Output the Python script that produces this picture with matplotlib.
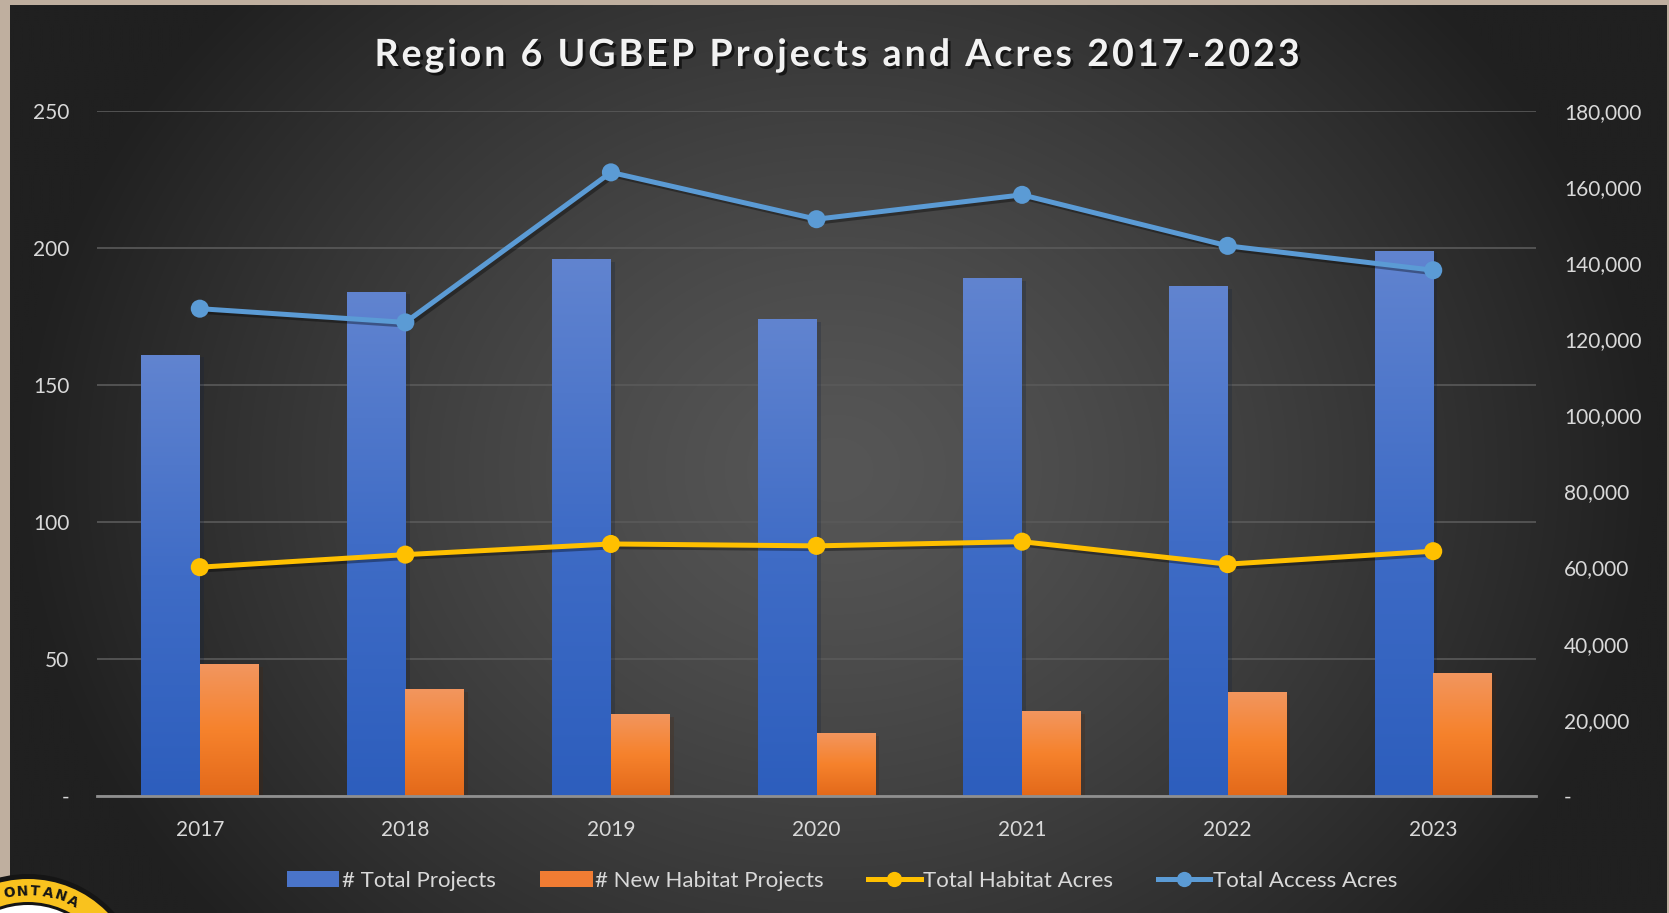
import numpy as np
import matplotlib
matplotlib.use("Agg")
import matplotlib.pyplot as plt
from matplotlib.colors import LinearSegmentedColormap
from matplotlib.patches import Patch, Circle
from matplotlib.lines import Line2D
import matplotlib.patheffects as pe

plt.rcParams['font.family'] = ['Lato', 'DejaVu Sans']

# Datos
years = ['2017', '2018', '2019', '2020', '2021', '2022', '2023']
total_projects = [161, 184, 196, 174, 189, 186, 199]
new_habitat_projects = [48, 39, 30, 23, 31, 38, 45]
habitat_acres = [60100, 63400, 66200, 65700, 66800, 60900, 64300]
access_acres = [128000, 124400, 163800, 151500, 157900, 144500, 138100]

left_ticks = [0, 50, 100, 150, 200, 250]
right_ticks = list(range(0, 180001, 20000))

title = 'Region 6 UGBEP Projects and Acres 2017-2023'

W, H = 1669, 913
fig = plt.figure(figsize=(W / 100, H / 100), dpi=100)
fig.patch.set_facecolor('#BFAF9F')

# Fondo con degradado radial
bg = fig.add_axes([0, 0, 1, 1], zorder=-10)
bg.set_xlim(0, W)
bg.set_ylim(H, 0)
bg.axis('off')
gx, gy = np.meshgrid(np.linspace(10, 1666, 400), np.linspace(5, H, 220))
d = np.sqrt(((gx - 835) / 820) ** 2 + ((gy - 470) / 700) ** 2)
val = 86 - 54 * np.clip(d, 0, 1) ** 1.3
rgb = np.dstack([val, val, val]) / 255.0
bg.imshow(rgb, extent=[10, 1666, H, 5], aspect='auto', interpolation='bilinear')
bg.set_xlim(0, W)
bg.set_ylim(H, 0)

# Logo (parcial) abajo a la izquierda
cx, cy = 28, 990
bg.add_patch(Circle((cx, cy), 116, fc='#151515', ec='none'))
bg.add_patch(Circle((cx, cy), 111, fc='#F9C21E', ec='none'))
bg.add_patch(Circle((cx, cy), 88, fc='#151515', ec='none'))
bg.add_patch(Circle((cx, cy), 85, fc='white', ec='none'))
for i, ch in enumerate("ONTANA"):
    th = np.deg2rad(-11 + 7.5 * i)
    bg.text(cx + 99 * np.sin(th), cy - 99 * np.cos(th), ch, rotation=-np.rad2deg(th),
            ha='center', va='center', fontsize=10, fontweight='bold', color='#151515',
            family='DejaVu Sans')

# Ejes principales
ax = fig.add_axes([97 / W, 1 - 796 / H, (1536 - 97) / W, (796 - 110.7) / H])
ax.patch.set_alpha(0)
ax2 = ax.twinx()
ax2.patch.set_alpha(0)

x = np.arange(len(years))
bw = 0.285
b1 = ax.bar(x - bw / 2, total_projects, bw, color='#4472C4', zorder=1,
            path_effects=[pe.SimplePatchShadow(offset=(3, -2), alpha=0.25), pe.Normal()])
b2 = ax.bar(x + bw / 2, new_habitat_projects, bw, color='#ED7D31', zorder=1,
            path_effects=[pe.SimplePatchShadow(offset=(3, -2), alpha=0.25), pe.Normal()])

def grad_fill(bars, stops):
    cmap = LinearSegmentedColormap.from_list('g', stops)
    grad = np.linspace(0, 1, 256).reshape(-1, 1)
    for b in bars:
        bx, by = b.get_xy()
        im = ax.imshow(grad, cmap=cmap, extent=[bx, bx + b.get_width(), by, by + b.get_height()],
                       origin='lower', aspect='auto', zorder=1.2)
        im.set_clip_path(b)

grad_fill(b1, ['#2D5EBD', '#3F6CC6', '#6184D0'])
grad_fill(b2, ['#E3691A', '#F6822C', '#F2965F'])

ax.set_xlim(-0.5, 6.5)
ax.set_ylim(0, 250)
ax.set_yticks(left_ticks)
ax.set_yticklabels(['-'] + [str(t) for t in left_ticks[1:]])
ax.set_xticks(x)
ax.set_xticklabels(years)
ax.grid(axis='y', color='#5A5A5A', lw=1.2, zorder=0)
ax.set_axisbelow(True)
for s in ['top', 'left', 'right']:
    ax.spines[s].set_visible(False)
ax.spines['bottom'].set_color('#8F8F8F')
ax.spines['bottom'].set_linewidth(2)
ax.spines['bottom'].set_zorder(3)
ax.tick_params(axis='y', length=0, pad=20, labelsize=15, labelcolor='#D9D9D9')
ax.tick_params(axis='x', length=0, pad=17, labelsize=15, labelcolor='#D9D9D9')

shadow = [pe.SimpleLineShadow(offset=(2, -2), alpha=0.35), pe.Normal()]
ax2.plot(x, habitat_acres, color='#FFC000', lw=3.6, marker='o', ms=13, mew=0,
         path_effects=shadow, zorder=3)
ax2.plot(x, access_acres, color='#5B9BD5', lw=3.6, marker='o', ms=13, mew=0,
         path_effects=shadow, zorder=3)
ax2.set_ylim(0, 180000)
ax2.set_yticks(right_ticks)
ax2.set_yticklabels(['-'] + ['{:,}'.format(t) for t in right_ticks[1:]])
for s in ax2.spines.values():
    s.set_visible(False)
ax2.tick_params(axis='y', length=0, pad=20, labelsize=15, labelcolor='#D9D9D9')

# Titulo con espaciado entre letras
renderer = fig.canvas.get_renderer()
tkw = dict(fontsize=27, fontweight='bold', color='#F2F2F2')

def adv(s):
    t = fig.text(0, 0, s, **tkw)
    w = t.get_window_extent(renderer).width
    t.remove()
    return w

bar_w = adv('||')
widths = [adv('|' + c + '|') - bar_w for c in title]
target = 925.0
extra = (target - sum(widths)) / (len(title) - 1)
xpos = 837 - target / 2
tshadow = [pe.withSimplePatchShadow(offset=(2, -2), shadow_rgbFace='black', alpha=0.6)]
for c, w in zip(title, widths):
    if c != ' ':
        fig.text((xpos + w / 2) / W, 1 - 55 / H, c, ha='center', va='center',
                 path_effects=tshadow, **tkw)
    xpos += w + extra

# Leyenda
handles = [
    Patch(facecolor='#4A74C9', label='# Total Projects'),
    Patch(facecolor='#F07C33', label='# New Habitat Projects'),
    Line2D([], [], color='#FFC000', lw=3.6, marker='o', ms=11, mew=0, label='Total Habitat Acres'),
    Line2D([], [], color='#5B9BD5', lw=3.6, marker='o', ms=11, mew=0, label='Total Access Acres'),
]
leg = fig.legend(handles=handles, loc='center', bbox_to_anchor=(0.5045, 0.035), ncol=4,
                 frameon=False, fontsize=16, handlelength=2.35, handletextpad=0.12,
                 columnspacing=2.0)
for t in leg.get_texts():
    t.set_color('#D9D9D9')

fig.savefig('out.png', dpi=100, facecolor=fig.get_facecolor())
